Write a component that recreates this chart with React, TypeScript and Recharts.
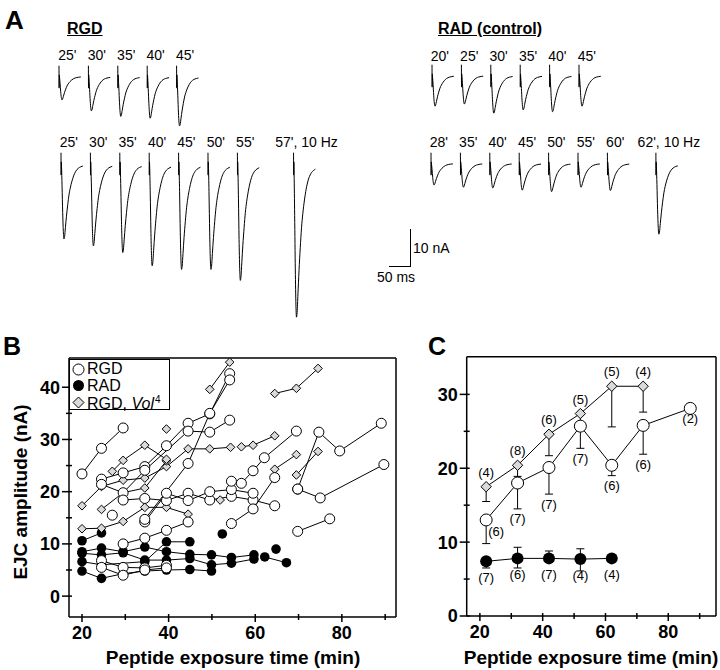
import React from "react";
import {
  ErrorBar,
  LabelList,
  Line,
  LineChart,
  ReferenceLine,
  Scatter,
  ScatterChart,
  XAxis,
  YAxis,
} from "recharts";

const FONT = '"Liberation Sans", Arial, Helvetica, sans-serif';

// ---------- panel A: sample EJC sweeps ----------
// one sweep: time (ms), depth as a fraction of peak, stimulus artefact (nA)
const traceMs = [0, 0.3, 0.7, 1.2, 2.5, 4, 5.5, 7, 8.5, 10.5, 13, 16, 19, 22, 26, 30, 35, 41, 47, 52];
const traceShape = [0, 0, 0, 0.05, 0.3, 0.65, 0.9, 1, 0.97, 0.85, 0.7, 0.55, 0.42, 0.33, 0.24, 0.17, 0.11, 0.07, 0.05, 0.04];
const artifactNa = [2.8, -3.3, 0.3, 0, 0, 0, 0, 0, 0, 0, 0, 0, 0, 0, 0, 0, 0, 0, 0, 0];

const rgdEarlyLabels = ["25'", "30'", "35'", "40'", "45'"];
const rgdEarlyAmps = [6.5, 9.5, 11, 11.5, 13.6];
const rgdLateLabels = ["25'", "30'", "35'", "40'", "45'", "50'", "55'", "57', 10 Hz"];
const rgdLateAmps = [20.7, 22.6, 24.4, 28, 29, 29, 32, 42];
const radEarlyLabels = ["20'", "25'", "30'", "35'", "40'", "45'"];
const radEarlyAmps = [8.5, 7.9, 10.4, 9.5, 10, 8.5];
const radLateLabels = ["28'", "35'", "40'", "45'", "50'", "55'", "60'", "62', 10 Hz"];
const radLateAmps = [6, 6.6, 6.8, 7.4, 7.8, 6.6, 7.5, 19.4];

// ---------- panel B: single experiments (min, nA) ----------
const rgdA = [[20, 23.4], [24.5, 28.3], [29.5, 32.2]];
const rgdB = [[24.5, 22.4], [29.5, 23.6], [34.5, 24.8], [39.5, 28.8], [44.5, 33.1], [49.5, 34.9], [54.1, 42.6]];
const rgdC = [[24.5, 21.4], [29.5, 19.8], [34.5, 24.1], [44.5, 31.6], [49.5, 31.4], [54.1, 33.7]];
const rgdD = [[29.5, 18.4], [34.5, 18.7], [39.5, 18.3], [44.5, 19.7], [49.5, 18.4], [54.5, 19.1], [59.5, 18.4], [64.5, 17.3]];
const rgdE = [[34.5, 14.2], [39.5, 19.7], [44.5, 18.3], [49.5, 20], [54.5, 20.4], [59.5, 19.7]];
const rgdF = [[34.5, 14.7], [44.5, 25.4], [49.5, 35], [54.1, 41.4]];
const rgdG = [[29.5, 10], [34.5, 11.1], [39.5, 12.6], [44.5, 14.2]];
const rgdH = [[54.5, 13.9], [59.5, 16.7], [64.5, 22.7]];
const rgdI = [[54.5, 22], [56.8, 21.6], [59.5, 24], [62.1, 26.5], [69.5, 31.6]];
const rgdJ = [[69.8, 20.5], [74.7, 31.4], [79.5, 27.8], [89.1, 33.1]];
const rgdK = [[69.8, 20.5], [75, 18.8], [89.7, 25.2]];
const rgdL = [[69.8, 12.4], [77.2, 14.8]];
const rgdM = [[24.5, 6.8], [29.5, 5.5], [34.5, 5.4], [39.5, 5.9]];
const rgdN = [[24.5, 5.5], [29.5, 4], [34.5, 5], [39.5, 5.4]];
const rgdO = [[27, 15.5]];

const radA = [[20, 10.6], [24.5, 12.1]];
const radB = [[20, 8.5], [24.5, 9.2], [29.5, 8.5], [34.5, 9.4], [39.5, 8.5], [44.9, 8], [49.9, 7.9], [54.5, 7.4], [59.7, 7.9]];
const radC = [[20, 8.2], [24.5, 7.9], [29.5, 8.3], [34.5, 6.9], [39.5, 6.9], [44.9, 7.2], [49.9, 6], [54.5, 6.3], [59.7, 7.1]];
const radD = [[20, 6.6], [24.5, 6], [34.5, 6.6], [39.5, 10.4], [44.9, 10.4]];
const radE = [[20, 4.8], [24.5, 3.4], [29.5, 4.3], [34.5, 4.8], [39.5, 5], [44.9, 5.1], [49.9, 4.8]];
const radF = [[62.2, 7.5], [67.2, 6.4]];
const radG = [[52.4, 11.9]];
const radH = [[64.8, 9]];

const volA = [[20, 17.3], [24.5, 21], [29.5, 22.2], [34.5, 22.6], [39.5, 24.8], [44.5, 28.2], [49.5, 28.2], [54.3, 28.5]];
const volB = [[20, 12.9], [24.5, 13], [29.5, 14.3], [34.5, 17], [39.5, 17], [44.5, 15.7]];
const volC = [[24.5, 16.6], [29.5, 19.8], [34.5, 20.7], [39.5, 25.9]];
const volD = [[27, 23.9], [29.5, 26], [34.5, 28.9], [39.5, 26.2]];
const volE = [[39.5, 32]];
const volF = [[49.5, 39.6], [54.1, 44.8]];
const volG = [[56.8, 28.6], [59.5, 28.9], [64.5, 30.7]];
const volH = [[64.5, 38.8], [69.5, 39.8], [74.5, 43.6]];
const volI = [[64.5, 24.3], [69.5, 27.1]];
const volJ = [[69.5, 23.2], [74.5, 27.7]];
const volK = [[51.9, 18.4]];

const bRgd = [rgdA, rgdB, rgdC, rgdD, rgdE, rgdF, rgdG, rgdH, rgdI, rgdJ, rgdK, rgdL, rgdM, rgdN, rgdO];
const bRad = [radA, radB, radC, radD, radE, radF, radG, radH];
const bVol = [volA, volB, volC, volD, volE, volF, volG, volH, volI, volJ, volK];

const bXTicks = [20, 30, 40, 50, 60, 70, 80, 90];
const bYTicks = [0, 5, 10, 15, 20, 25, 30, 35, 40];

// ---------- panel C: means, SEM, n ----------
const cRgdT = [22, 32, 42, 52, 62, 72, 87];
const cRgdMean = [13, 18, 20.1, 25.7, 20.4, 25.8, 28.1];
const cRgdSem = [3.2, 3.5, 3.6, 3, 1.4, 3.9, 0];
const cRgdN = [6, 7, 7, 7, 6, 6, 2];
const cVolT = [22, 32, 42, 52, 62, 72];
const cVolMean = [17.5, 20.4, 24.6, 27.4, 31.1, 31.1];
const cVolSem = [2, 1.5, 2.9, 1.5, 5.5, 3.5];
const cVolN = [4, 8, 6, 5, 5, 4];
const cRadT = [22, 32, 42, 52, 62];
const cRadMean = [7.4, 7.8, 7.8, 7.7, 7.8];
const cRadSemDown = [0.9, 1.3, 0.5, 1.6, 0];
const cRadSemUp = [0.3, 1.5, 1, 1.4, 0];
const cRadN = [7, 6, 7, 4, 4];

const cXTicks = [20, 30, 40, 50, 60, 70, 80, 90];
const cYTicks = [0, 5, 10, 15, 20, 25, 30];

const toPts = (pairs: number[][]) => pairs.map(([t, v]) => ({ t, v }));

const rgdMeans = cRgdT.map((t, i) => ({ t, v: cRgdMean[i], e: [cRgdSem[i], 0], n: cRgdN[i] }));
const rgdLabelPts = cRgdT.map((t, i) => ({ t, v: cRgdMean[i] - cRgdSem[i], n: cRgdN[i] }));
const volMeans = cVolT.map((t, i) => ({ t, v: cVolMean[i], e: [cVolSem[i], 0], n: cVolN[i] }));
const radMeans = cRadT.map((t, i) => ({ t, v: cRadMean[i], e: [cRadSemDown[i], cRadSemUp[i]], n: cRadN[i] }));

// scale of the sweeps in panel A
const PX_PER_MS = 0.42;
const PX_PER_NA = 3.67;
const SLOT = 29.4;

function TraceRow({
  x0,
  baseline,
  labelY,
  labels,
  amps,
  lastSlot,
}: {
  x0: number;
  baseline: number;
  labelY: number;
  labels: string[];
  amps: number[];
  lastSlot?: number;
}) {
  const padL = 6;
  const padT = 14;
  const n = amps.length;
  const slots = amps.map((_, i) => (lastSlot !== undefined && i === n - 1 ? lastSlot : i));
  const width = slots[n - 1] * SLOT + 40;
  const height = padT + Math.max(...amps) * PX_PER_NA + 14;
  const sweeps = amps.map((a, i) =>
    traceMs.map((ms, j) => ({ t: (slots[i] * SLOT) / PX_PER_MS + ms, v: artifactNa[j] - a * traceShape[j] }))
  );
  return (
    <>
      <div style={{ position: "absolute", left: x0 - padL, top: baseline - padT }}>
        <LineChart width={width} height={height} margin={{ top: 0, right: 0, bottom: 0, left: 0 }}>
          <XAxis type="number" dataKey="t" hide domain={[-padL / PX_PER_MS, (width - padL) / PX_PER_MS]} />
          <YAxis type="number" hide domain={[-(height - padT) / PX_PER_NA, padT / PX_PER_NA]} />
          {sweeps.map((d, i) => (
            <Line
              key={i}
              data={d}
              dataKey="v"
              type="monotone"
              stroke="#000"
              strokeWidth={1}
              dot={false}
              isAnimationActive={false}
            />
          ))}
        </LineChart>
      </div>
      {labels.map((lab, i) => (
        <span
          key={i}
          style={{
            position: "absolute",
            left: x0 - 1 + slots[i] * SLOT - (lastSlot !== undefined && i === n - 1 ? 17 : 0),
            top: labelY - 7,
            fontSize: 14,
            lineHeight: "14px",
            whiteSpace: "nowrap",
          }}
        >
          {lab}
        </span>
      ))}
    </>
  );
}

const YTick = ({ x, y, payload }: any) => {
  const major = payload.value % 10 === 0;
  return (
    <g>
      <line x1={x - (major ? 7 : 3)} x2={x + 3} y1={y} y2={y} stroke="#000" strokeWidth={1.5} />
      {major && (
        <text x={x - 9} y={y} dy="0.36em" textAnchor="end" fontSize={18} fontWeight="bold" fill="#000">
          {payload.value}
        </text>
      )}
    </g>
  );
};

const XTick = ({ x, y, payload }: any) => {
  const major = payload.value % 20 === 0;
  return (
    <g>
      <line x1={x} x2={x} y1={y - 3} y2={y + (major ? 5 : 3)} stroke="#000" strokeWidth={1.5} />
      {major && (
        <text x={x} y={y + 9} dy="0.72em" textAnchor="middle" fontSize={18} fontWeight="bold" fill="#000">
          {payload.value}
        </text>
      )}
    </g>
  );
};

const OpenDot = (p: any) => <circle cx={p.cx} cy={p.cy} r={5} fill="#fff" stroke="#000" strokeWidth={1} />;
const FilledDot = (p: any) => <circle cx={p.cx} cy={p.cy} r={4.8} fill="#000" />;
const diamondPath = (cx: number, cy: number, h: number) =>
  `M${cx},${cy - h}L${cx + h},${cy}L${cx},${cy + h}L${cx - h},${cy}Z`;
const Diamond = (p: any) => <path d={diamondPath(p.cx, p.cy, 4.3)} fill="#dadada" stroke="#000" strokeWidth={1} />;
const NoDot = () => <g />;

const axisLine = { stroke: "#000", strokeWidth: 1.5 };

function nLabel(dx: number, dy: number, firstDx = dx, firstDy = dy) {
  return (p: any) => {
    const x = p.x ?? p.viewBox?.x;
    const y = p.y ?? p.viewBox?.y;
    const first = p.index === 0;
    return (
      <text
        x={x + (first ? firstDx : dx)}
        y={y + (first ? firstDy : dy)}
        dy="0.35em"
        textAnchor="middle"
        fontSize={13}
        fill="#000"
      >
        ({p.value})
      </text>
    );
  };
}

function Text({ left, top, size, bold, children, style }: any) {
  return (
    <div
      style={{
        position: "absolute",
        left,
        top,
        fontSize: size,
        lineHeight: `${size}px`,
        fontWeight: bold ? "bold" : "normal",
        whiteSpace: "nowrap",
        ...style,
      }}
    >
      {children}
    </div>
  );
}

export default function App() {
  return (
    <div
      style={{
        position: "absolute",
        left: 0,
        top: 0,
        width: 720,
        height: 670,
        background: "#fff",
        color: "#000",
        fontFamily: FONT,
        overflow: "hidden",
      }}
    >
      {/* panel A */}
      <Text left={5} top={6.6} size={26} bold>A</Text>
      <Text left={67} top={20.5} size={16} bold style={{ textDecoration: "underline" }}>RGD</Text>
      <Text left={438} top={20.5} size={16} bold style={{ textDecoration: "underline" }}>RAD (control)</Text>
      <TraceRow x0={59.3} baseline={76} labelY={55} labels={rgdEarlyLabels} amps={rgdEarlyAmps} />
      <TraceRow x0={60.7} baseline={163} labelY={141.7} labels={rgdLateLabels} amps={rgdLateAmps} lastSlot={7.91} />
      <TraceRow x0={431.7} baseline={75} labelY={56} labels={radEarlyLabels} amps={radEarlyAmps} />
      <TraceRow x0={430.7} baseline={163} labelY={141.7} labels={radLateLabels} amps={radLateAmps} lastSlot={7.65} />
      <div
        style={{
          position: "absolute",
          left: 389,
          top: 229,
          width: 50 * PX_PER_MS,
          height: 10 * PX_PER_NA,
          borderRight: "1.5px solid #000",
          borderBottom: "1.5px solid #000",
        }}
      />
      <Text left={413} top={241} size={14}>10 nA</Text>
      <Text left={377} top={270} size={14}>50 ms</Text>

      {/* panel B */}
      <Text left={3} top={333.5} size={25} bold>B</Text>
      <div style={{ position: "absolute", left: 0, top: 340 }}>
        <ScatterChart width={400} height={330} margin={{ top: 18, right: 4, bottom: 0, left: 0 }}>
          <XAxis
            type="number"
            dataKey="t"
            domain={[17, 92.5]}
            ticks={bXTicks}
            tick={<XTick />}
            tickSize={0}
            tickMargin={0}
            tickLine={false}
            axisLine={axisLine}
            height={53}
          />
          <YAxis
            type="number"
            dataKey="v"
            domain={[-4, 45.6]}
            ticks={bYTicks}
            tick={<YTick />}
            tickSize={0}
            tickMargin={0}
            tickLine={false}
            axisLine={axisLine}
            width={69}
          />
          <ReferenceLine y={45.6} stroke="#000" strokeWidth={1.5} />
          <ReferenceLine x={92.5} stroke="#000" strokeWidth={1.5} />
          {[...bRad, ...bVol, ...bRgd].map((s, i) => (
            <Scatter
              key={`l${i}`}
              data={toPts(s)}
              line={{ stroke: "#000", strokeWidth: 1 }}
              shape={NoDot}
              isAnimationActive={false}
            />
          ))}
          {bRad.map((s, i) => (
            <Scatter key={`r${i}`} data={toPts(s)} shape={FilledDot} isAnimationActive={false} />
          ))}
          {bVol.map((s, i) => (
            <Scatter key={`v${i}`} data={toPts(s)} shape={Diamond} isAnimationActive={false} />
          ))}
          {bRgd.map((s, i) => (
            <Scatter key={`g${i}`} data={toPts(s)} shape={OpenDot} isAnimationActive={false} />
          ))}
        </ScatterChart>
      </div>
      <div
        style={{
          position: "absolute",
          left: 69,
          top: 359,
          width: 101,
          height: 51,
          boxSizing: "border-box",
          border: "1px solid #000",
          background: "#fff",
          padding: "1px 0 0 2px",
          fontSize: 16,
          lineHeight: "16.5px",
        }}
      >
        <div style={{ display: "flex", alignItems: "center", height: 16.5 }}>
          <svg width={13} height={13}>
            <circle cx={6.5} cy={6.5} r={5.5} fill="#fff" stroke="#000" />
          </svg>
          <span style={{ marginLeft: 2 }}>RGD</span>
        </div>
        <div style={{ display: "flex", alignItems: "center", height: 16.5 }}>
          <svg width={13} height={13}>
            <circle cx={6.5} cy={6.5} r={5.5} fill="#000" />
          </svg>
          <span style={{ marginLeft: 2 }}>RAD</span>
        </div>
        <div style={{ display: "flex", alignItems: "center", height: 16.5 }}>
          <svg width={13} height={13}>
            <path d={diamondPath(6.5, 6.5, 5.5)} fill="#dadada" stroke="#000" />
          </svg>
          <span style={{ marginLeft: 2, whiteSpace: "nowrap" }}>
            RGD, <i>Vol</i>
            <sup style={{ fontSize: 10, marginLeft: 1 }}>4</sup>
          </span>
        </div>
      </div>
      <Text
        left={20}
        top={492}
        size={19}
        bold
        style={{ transform: "translate(-50%, -50%) rotate(-90deg)" }}
      >
        EJC amplitude (nA)
      </Text>
      <Text left={233} top={647.5} size={19} bold style={{ transform: "translateX(-50%)" }}>
        Peptide exposure time (min)
      </Text>

      {/* panel C */}
      <Text left={428} top={333.5} size={25} bold>C</Text>
      <div style={{ position: "absolute", left: 410, top: 340 }}>
        <LineChart width={310} height={330} margin={{ top: 16.7, right: 4, bottom: 0, left: 0 }}>
          <XAxis
            type="number"
            dataKey="t"
            domain={[15.8, 95.2]}
            ticks={cXTicks}
            tick={<XTick />}
            tickSize={0}
            tickMargin={0}
            tickLine={false}
            axisLine={axisLine}
            height={54}
          />
          <YAxis
            type="number"
            domain={[0, 35.1]}
            ticks={cYTicks}
            tick={<YTick />}
            tickSize={0}
            tickMargin={0}
            tickLine={false}
            axisLine={axisLine}
            width={56.7}
          />
          <ReferenceLine y={35.1} stroke="#000" strokeWidth={1.5} />
          <ReferenceLine x={95.2} stroke="#000" strokeWidth={1.5} />
          <Line
            data={rgdLabelPts}
            dataKey="v"
            stroke="none"
            dot={false}
            isAnimationActive={false}
          >
            <LabelList dataKey="n" content={nLabel(0, 10, 10, -12)} />
          </Line>
          <Line
            data={radMeans}
            dataKey="v"
            stroke="#000"
            strokeWidth={1}
            dot={(p: any) => <circle key={p.index} cx={p.cx} cy={p.cy} r={6} fill="#000" />}
            isAnimationActive={false}
          >
            <ErrorBar dataKey="e" direction="y" width={4} stroke="#000" strokeWidth={1} />
            <LabelList dataKey="n" content={nLabel(0, 16)} />
          </Line>
          <Line
            data={rgdMeans}
            dataKey="v"
            stroke="#000"
            strokeWidth={1}
            dot={(p: any) => <circle key={p.index} cx={p.cx} cy={p.cy} r={6} fill="#fff" stroke="#000" strokeWidth={1} />}
            isAnimationActive={false}
          >
            <ErrorBar dataKey="e" direction="y" width={4} stroke="#000" strokeWidth={1} />
          </Line>
          <Line
            data={volMeans}
            dataKey="v"
            stroke="#000"
            strokeWidth={1}
            dot={(p: any) => (
              <path key={p.index} d={diamondPath(p.cx, p.cy, 5.2)} fill="#dadada" stroke="#000" strokeWidth={1} />
            )}
            isAnimationActive={false}
          >
            <ErrorBar dataKey="e" direction="y" width={4} stroke="#000" strokeWidth={1} />
            <LabelList dataKey="n" content={nLabel(0, -14.5)} />
          </Line>
        </LineChart>
      </div>
      <Text left={591} top={647.5} size={19} bold style={{ transform: "translateX(-50%)" }}>
        Peptide exposure time (min)
      </Text>
    </div>
  );
}
